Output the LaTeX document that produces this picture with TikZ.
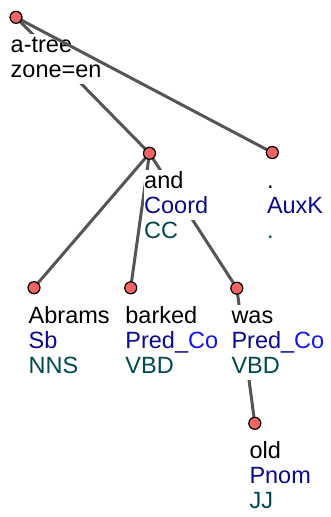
\documentclass[tikz,border=0pt]{standalone}
\usepackage{fontspec}
\setmainfont{Liberation Sans}
\usetikzlibrary{calc}
\definecolor{edgec}{HTML}{555555}
\definecolor{nodec}{RGB}{240,100,100}
\definecolor{afunc}{RGB}{10,10,140}
\definecolor{coc}{RGB}{20,20,240}
\definecolor{tagc}{RGB}{0,72,80}
\pgfdeclarelayer{canvas}
\pgfdeclarelayer{edges}
\pgfdeclarelayer{labels}
\pgfdeclarelayer{topedge}
\pgfsetlayers{canvas,edges,labels,topedge,main}
\begin{document}
\begin{tikzpicture}[x=1pt,y=-1pt,
  tnode/.style={circle,draw=black,line width=1.2pt,fill=nodec,minimum size=12pt,inner sep=0pt},
  tedge/.style={draw=edgec,line width=3pt},
  lab/.style={anchor=base west,inner xsep=0.5pt,inner ysep=0pt,text height=19pt,text depth=6pt,fill=white,font=\fontsize{23.5}{25}\selectfont},
  form/.style={lab,text=black},
  afun/.style={lab,text=afunc},
  tagl/.style={lab,text=tagc}]
\begin{pgfonlayer}{canvas}
\fill[white] (0,0) rectangle (331,517);
\end{pgfonlayer}
\useasboundingbox (0,0) rectangle (331,517);
% tree nodes
\node[tnode] (root) at (16,17.3) {};
\node[tnode] (and) at (149.5,153.3) {};
\node[tnode] (dot) at (272.3,152.5) {};
\node[tnode] (abrams) at (34,287.7) {};
\node[tnode] (barked) at (130.7,287.8) {};
\node[tnode] (was) at (236.8,288.2) {};
\node[tnode] (old) at (254.8,423.3) {};
% edges
\begin{pgfonlayer}{edges}
\draw[tedge] (root.center) -- (and.center);
\draw[tedge] (and.center) -- (abrams.center);
\draw[tedge] (and.center) -- (barked.center);
\draw[tedge] (and.center) -- (was.center);
\draw[tedge] (was.center) -- (old.center);
\end{pgfonlayer}
\begin{pgfonlayer}{topedge}
\draw[tedge] (root.center) -- (dot.center);
\end{pgfonlayer}
% labels
\begin{pgfonlayer}{labels}
\node[form] (rootl1) at ($(root.center)+(-6,35.5)$) {a-tree};
\node[form] (rootl2) at ($(root.center)+(-6,60.5)$) {zone=en};

\node[form] (andl1) at ($(and.center)+(-6,35.5)$) {and};
\node[afun] (andl2) at ($(and.center)+(-6,60.5)$) {Coord};
\node[tagl] (andl3) at ($(and.center)+(-6,85.5)$) {CC};

\node[form] (dotl1) at ($(dot.center)+(-6,35.5)$) {.};
\node[afun] (dotl2) at ($(dot.center)+(-6,60.5)$) {AuxK};
\node[tagl] (dotl3) at ($(dot.center)+(-6,85.5)$) {.};

\node[form] (abramsl1) at ($(abrams.center)+(-6,35.5)$) {Abrams};
\node[afun] (abramsl2) at ($(abrams.center)+(-6,60.5)$) {Sb};
\node[tagl] (abramsl3) at ($(abrams.center)+(-6,85.5)$) {NNS};

\node[form] (barkedl1) at ($(barked.center)+(-6,35.5)$) {barked};
\node[afun] (barkedl2) at ($(barked.center)+(-6,60.5)$) {Pred\_{\color{coc}Co}};
\node[tagl] (barkedl3) at ($(barked.center)+(-6,85.5)$) {VBD};

\node[form] (wasl1) at ($(was.center)+(-6,35.5)$) {was};
\node[afun] (wasl2) at ($(was.center)+(-6,60.5)$) {Pred\_{\color{coc}Co}};
\node[tagl] (wasl3) at ($(was.center)+(-6,85.5)$) {VBD};

\node[form] (oldl1) at ($(old.center)+(-6,35.5)$) {old};
\node[afun] (oldl2) at ($(old.center)+(-6,60.5)$) {Pnom};
\node[tagl] (oldl3) at ($(old.center)+(-6,85.5)$) {JJ};
\end{pgfonlayer}
\end{tikzpicture}
\end{document}
